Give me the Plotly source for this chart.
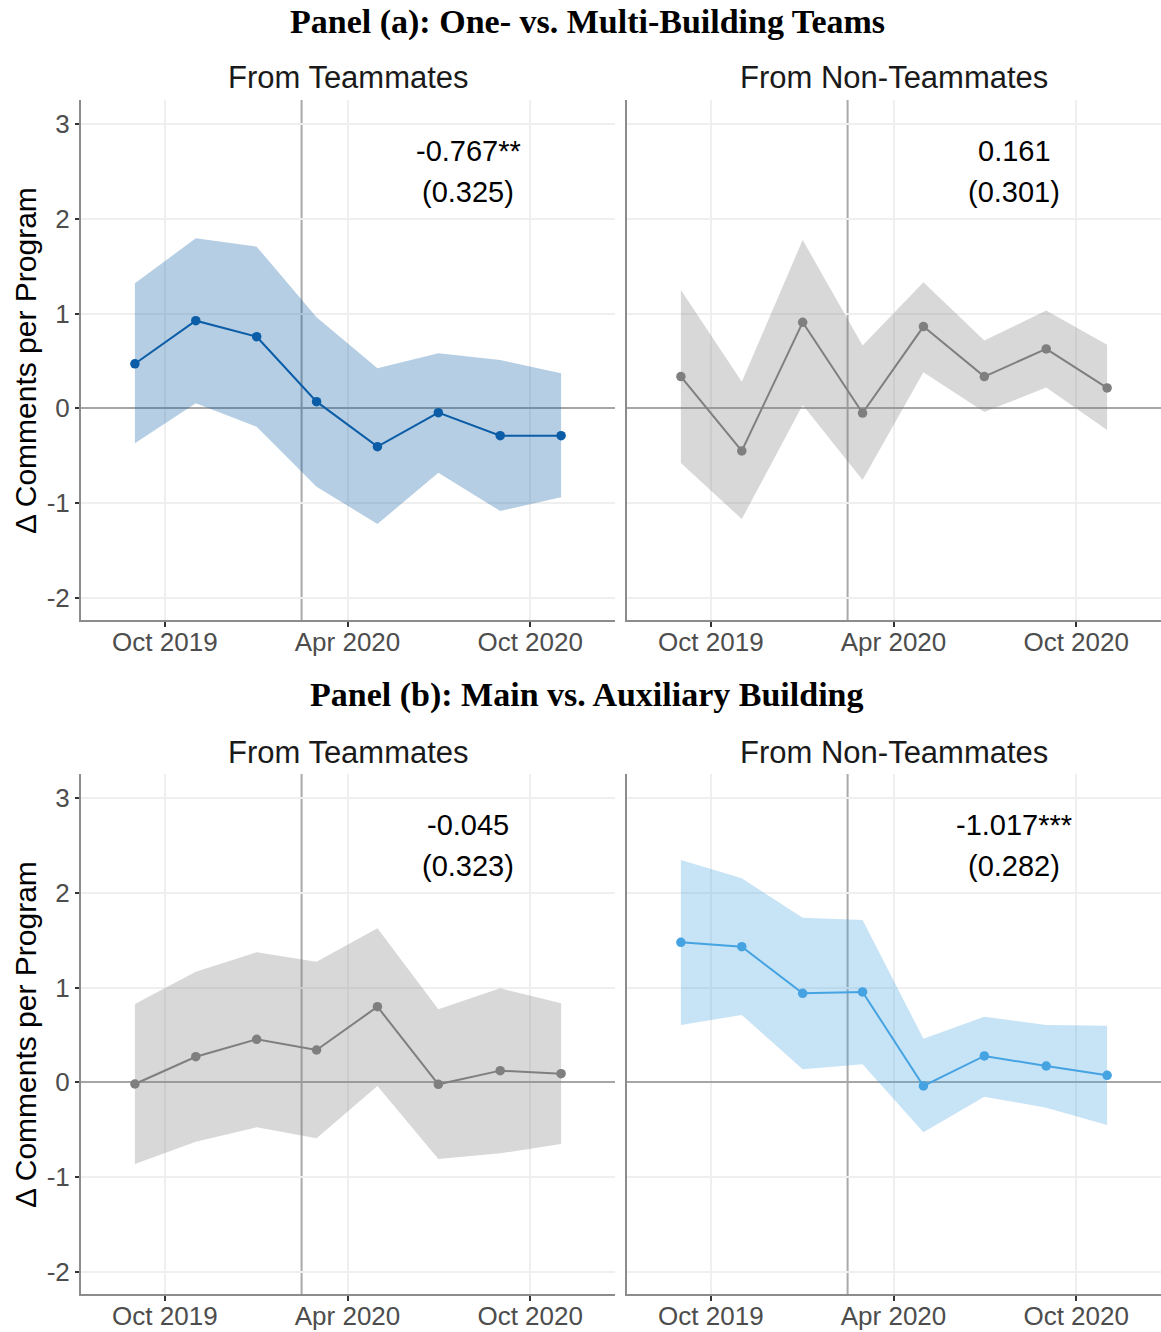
import plotly.graph_objects as go

# Bimonthly event-study periods
periods = ["2019-09-01", "2019-11-01", "2020-01-01", "2020-03-01",
           "2020-05-01", "2020-07-01", "2020-09-01", "2020-11-01"]
event_date = "2020-02-15"

# Panel (a), from teammates
a_tm_est = [0.47, 0.925, 0.756, 0.07, -0.405, -0.046, -0.289, -0.289]
a_tm_hi = [1.32, 1.795, 1.707, 0.961, 0.422, 0.581, 0.51, 0.37]
a_tm_lo = [-0.37, 0.053, -0.194, -0.828, -1.222, -0.68, -1.085, -0.94]

# Panel (a), from non-teammates
a_nt_est = [0.335, -0.45, 0.908, -0.05, 0.863, 0.335, 0.627, 0.215]
a_nt_hi = [1.25, 0.28, 1.778, 0.662, 1.33, 0.715, 1.032, 0.67]
a_nt_lo = [-0.578, -1.17, 0.035, -0.757, 0.38, -0.04, 0.22, -0.23]

# Panel (b), from teammates
b_tm_est = [-0.018, 0.27, 0.454, 0.341, 0.798, -0.021, 0.123, 0.091]
b_tm_hi = [0.827, 1.168, 1.372, 1.274, 1.626, 0.771, 0.993, 0.834]
b_tm_lo = [-0.863, -0.627, -0.475, -0.592, -0.039, -0.81, -0.75, -0.652]

# Panel (b), from non-teammates
b_nt_est = [1.478, 1.432, 0.94, 0.954, -0.039, 0.278, 0.172, 0.074]
b_nt_hi = [2.347, 2.154, 1.738, 1.714, 0.46, 0.693, 0.605, 0.598]
b_nt_lo = [0.605, 0.711, 0.137, 0.19, -0.528, -0.152, -0.268, -0.451]

# Pooled coefficients (standard errors)
coef_labels = ["-0.767**", "0.161", "-0.045", "-1.017***"]
se_labels = ["(0.325)", "(0.301)", "(0.323)", "(0.282)"]

y_ticks = [-2, -1, 0, 1, 2, 3]
y_tick_text = ["-2", "-1", "0", "1", "2", "3"]

panel_titles = ["Panel (a): One- vs. Multi-Building Teams",
                "Panel (b): Main vs. Auxiliary Building"]
strip_titles = ["From Teammates", "From Non-Teammates"]
y_title = "Δ Comments per Program"

DARK_BLUE = (10, 93, 166)
GREY = (127, 127, 127)
LIGHT_BLUE = (69, 163, 226)

series = [
    (a_tm_est, a_tm_hi, a_tm_lo, DARK_BLUE),
    (a_nt_est, a_nt_hi, a_nt_lo, GREY),
    (b_tm_est, b_tm_hi, b_tm_lo, GREY),
    (b_nt_est, b_nt_hi, b_nt_lo, LIGHT_BLUE),
]

W, H = 1161, 1332
x_doms = [[81 / W, 615 / W], [627 / W, 1.0]]
y_doms = [[1 - 620 / H, 1 - 100 / H], [1 - 1294 / H, 1 - 774 / H]]
x_range = ["2019-07-09", "2020-12-25"]
y_range = [-2.2356, 3.2555]

fig = go.Figure()
layout = dict(
    width=W, height=H, margin=dict(l=0, r=0, t=0, b=0),
    paper_bgcolor="white", plot_bgcolor="white", showlegend=False,
    font=dict(family="Liberation Sans, Arial, sans-serif", color="#4d4d4d"),
)
annotations = []
shapes = []

for i, (est, hi, lo, rgb) in enumerate(series):
    row, col = divmod(i, 2)
    n = i + 1
    xa = "x" if n == 1 else f"x{n}"
    ya = "y" if n == 1 else f"y{n}"
    line_col = "rgb(%d,%d,%d)" % rgb
    fill_col = "rgba(%d,%d,%d,0.3)" % rgb

    fig.add_trace(go.Scatter(x=periods, y=hi, mode="lines", line=dict(width=0),
                             hoverinfo="skip", xaxis=xa, yaxis=ya))
    fig.add_trace(go.Scatter(x=periods, y=lo, mode="lines", line=dict(width=0),
                             fill="tonexty", fillcolor=fill_col,
                             hoverinfo="skip", xaxis=xa, yaxis=ya))
    fig.add_trace(go.Scatter(x=periods, y=est, mode="lines+markers",
                             line=dict(color=line_col, width=2),
                             marker=dict(color=line_col, size=9.5),
                             xaxis=xa, yaxis=ya))

    axis_key = "" if n == 1 else str(n)
    layout["xaxis" + axis_key] = dict(
        domain=x_doms[col], anchor=ya, type="date", range=x_range,
        tick0="2019-10-01", dtick="M6", tickformat="%b %Y",
        showgrid=True, gridcolor="#efefef", gridwidth=2,
        showline=True, linecolor="#8c8c8c", linewidth=2,
        ticks="outside", ticklen=5, tickwidth=2, tickcolor="#333333",
        ticklabelstandoff=-7,
        tickfont=dict(size=26, color="#4d4d4d"), zeroline=False,
    )
    layout["yaxis" + axis_key] = dict(
        domain=y_doms[row], anchor=xa, range=y_range,
        tickmode="array", tickvals=y_ticks, ticktext=y_tick_text,
        showgrid=True, gridcolor="#efefef", gridwidth=2,
        showline=True, linecolor="#8c8c8c", linewidth=2,
        ticks="outside" if col == 0 else "", ticklen=4, tickwidth=2,
        tickcolor="#333333", showticklabels=(col == 0),
        tickfont=dict(size=26, color="#4d4d4d"),
        zeroline=True, zerolinecolor="#a6a6a6", zerolinewidth=2,
    )

    # policy date marker
    shapes.append(dict(type="line", xref=xa, yref="paper",
                       x0=event_date, x1=event_date,
                       y0=y_doms[row][0], y1=y_doms[row][1],
                       line=dict(color="#a9a9a9", width=2), layer="below"))

    # coefficient and standard error
    annotations.append(dict(x="2020-07-31", y=2.717, xref=xa, yref=ya,
                            text=coef_labels[i], showarrow=False,
                            font=dict(size=29, color="black")))
    annotations.append(dict(x="2020-07-31", y=2.284, xref=xa, yref=ya,
                            text=se_labels[i], showarrow=False,
                            font=dict(size=29, color="black")))

    # strip title
    strip_y = 1 - (77 if row == 0 else 752) / H
    annotations.append(dict(x=sum(x_doms[col]) / 2, y=strip_y, xref="paper",
                            yref="paper", text=strip_titles[col], showarrow=False,
                            xanchor="center", yanchor="middle",
                            font=dict(size=31, color="#1a1a1a")))

    # shared y-axis title, left column only
    if col == 0:
        annotations.append(dict(x=25 / W, y=1 - (361 if row == 0 else 1035) / H,
                                xref="paper", yref="paper", text=y_title,
                                textangle=-90, showarrow=False,
                                xanchor="center", yanchor="middle",
                                font=dict(size=30, color="black")))

for row, title in enumerate(panel_titles):
    annotations.append(dict(x=587 / W, y=1 - (22 if row == 0 else 695) / H,
                            xref="paper", yref="paper", text="<b>%s</b>" % title,
                            showarrow=False, xanchor="center", yanchor="middle",
                            font=dict(size=34, color="black",
                                      family="Liberation Serif, Times New Roman, serif")))

layout["annotations"] = annotations
layout["shapes"] = shapes
fig.update_layout(**layout)

fig.write_html("out.html")
